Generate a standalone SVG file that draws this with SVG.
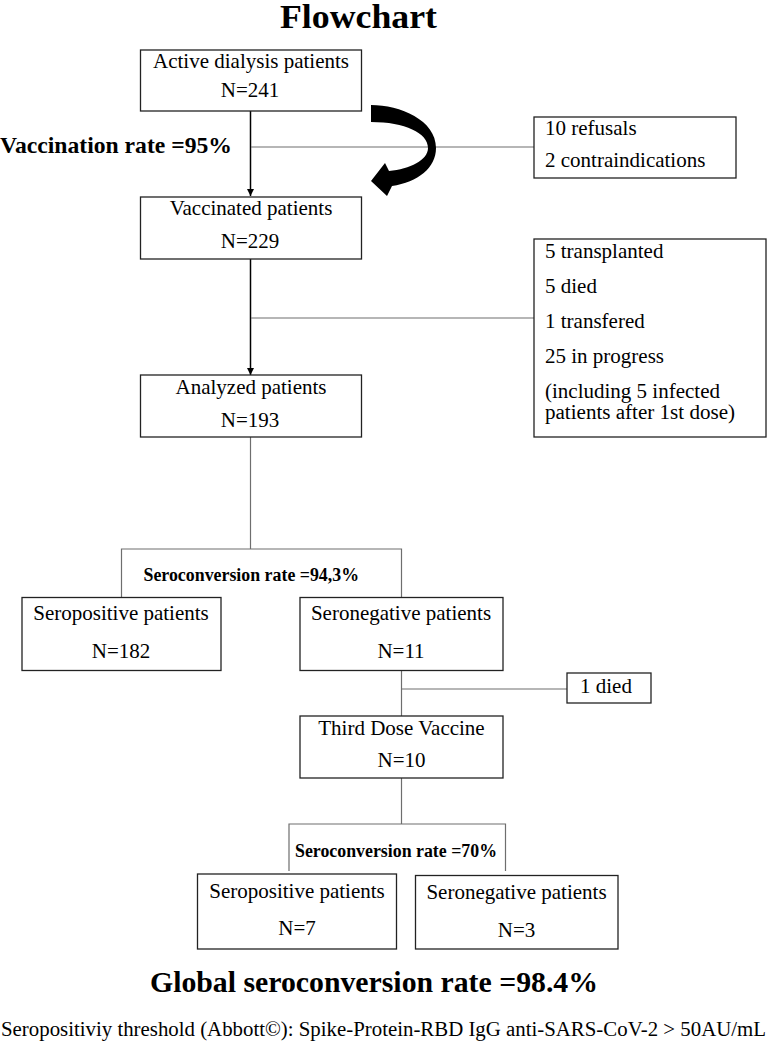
<svg xmlns="http://www.w3.org/2000/svg" width="768" height="1044" viewBox="0 0 768 1044">
<style>
text{font-family:"Liberation Serif","Times New Roman",serif;fill:#000}
.t{font-size:21px;text-anchor:middle}
.l{font-size:21px}
.b{font-weight:bold}
.box{fill:#fff;stroke:#222;stroke-width:1.3}
.arr{stroke:#000;stroke-width:1.5;fill:none}
.thin{stroke:#6e6e6e;stroke-width:1.2;fill:none}
</style>
<defs>
<marker id="ah" viewBox="0 0 10 10" refX="10" refY="5" markerWidth="5" markerHeight="5" orient="auto" markerUnits="strokeWidth">
<path d="M0,0 L10,5 L0,10 Z" fill="#000"/>
</marker>
</defs>
<rect width="768" height="1044" fill="#fff"/>
<text x="358.5" y="28" class="b" font-size="34" text-anchor="middle" textLength="157" lengthAdjust="spacingAndGlyphs">Flowchart</text>

<g id="connectors">
<line class="arr" x1="250.5" y1="111" x2="250.5" y2="196" marker-end="url(#ah)"/>
<line class="thin" x1="251" y1="147" x2="534" y2="147"/>
<line class="arr" x1="250.5" y1="259" x2="250.5" y2="375" marker-end="url(#ah)"/>
<line class="thin" x1="251" y1="318" x2="534" y2="318"/>
<line class="thin" x1="250.5" y1="437" x2="250.5" y2="549"/>
<polyline class="thin" points="121.5,597 121.5,549 401.5,549 401.5,597"/>
<line class="thin" x1="401.5" y1="671" x2="401.5" y2="716"/>
<line class="thin" x1="401.5" y1="689" x2="567" y2="689"/>
<line class="thin" x1="401.5" y1="778" x2="401.5" y2="824"/>
<polyline class="thin" points="289,871 289,824 505.5,824 505.5,871"/>
<path id="curved-arrow" d="M371,105 C400,105 436,120 436,148 C436,168 418,182 392,186 L387,196 L371,181 L385,163 L389,171 C410,169 428,160 428,148 C428,133 405,122 371,122 Z" fill="#000"/>
</g>

<text x="0" y="153" class="b" font-size="23" textLength="232" lengthAdjust="spacingAndGlyphs">Vaccination rate =95%</text>

<g id="n-active">
<rect class="box" x="140.5" y="50" width="221" height="61"/>
<text class="t" x="251" y="68">Active dialysis patients</text>
<text class="t" x="250" y="97">N=241</text>
</g>

<g id="n-excluded1">
<rect class="box" x="534" y="117" width="202" height="61"/>
<text class="l" x="545" y="135">10 refusals</text>
<text class="l" x="545" y="167">2 contraindications</text>
</g>

<g id="n-vaccinated">
<rect class="box" x="140.5" y="197" width="221" height="62"/>
<text class="t" x="251" y="215">Vaccinated patients</text>
<text class="t" x="250" y="248">N=229</text>
</g>

<g id="n-excluded2">
<rect class="box" x="534" y="239" width="232" height="198"/>
<text class="l" x="545" y="258">5 transplanted</text>
<text class="l" x="545" y="293">5 died</text>
<text class="l" x="545" y="328">1 transfered</text>
<text class="l" x="545" y="363">25 in progress</text>
<text x="545" y="398" font-size="20" textLength="175" lengthAdjust="spacingAndGlyphs">(including 5 infected</text>
<text x="545" y="419" font-size="20" textLength="190" lengthAdjust="spacingAndGlyphs">patients after 1st dose)</text>
</g>

<g id="n-analyzed">
<rect class="box" x="140.5" y="375" width="221" height="62"/>
<text class="t" x="251" y="394">Analyzed patients</text>
<text class="t" x="250" y="427">N=193</text>
</g>

<text x="143.5" y="581" class="b" font-size="18" textLength="215.5" lengthAdjust="spacingAndGlyphs">Seroconversion rate =94,3%</text>

<g id="n-seropos1">
<rect class="box" x="22" y="597.5" width="199" height="73"/>
<text class="t" x="121" y="620">Seropositive patients</text>
<text class="t" x="121" y="658">N=182</text>
</g>

<g id="n-seroneg1">
<rect class="box" x="300" y="597.5" width="203" height="73"/>
<text class="t" x="401" y="620">Seronegative patients</text>
<text class="t" x="401" y="658">N=11</text>
</g>

<g id="n-died">
<rect class="box" x="567" y="673" width="84" height="30"/>
<text class="l" x="580" y="693">1 died</text>
</g>

<g id="n-third">
<rect class="box" x="300" y="716" width="203" height="62"/>
<text class="t" x="401.5" y="735">Third Dose Vaccine</text>
<text class="t" x="401.5" y="767">N=10</text>
</g>

<text x="295" y="857" class="b" font-size="18" textLength="202" lengthAdjust="spacingAndGlyphs">Seroconversion rate =70%</text>

<g id="n-seropos2">
<rect class="box" x="197.5" y="874" width="199" height="75"/>
<text class="t" x="297" y="898">Seropositive patients</text>
<text class="t" x="297" y="935">N=7</text>
</g>

<g id="n-seroneg2">
<rect class="box" x="415.5" y="875.5" width="202.5" height="73.5"/>
<text class="t" x="516.5" y="899">Seronegative patients</text>
<text class="t" x="516.5" y="937">N=3</text>
</g>

<text x="374" y="992" class="b" font-size="30" text-anchor="middle" textLength="448" lengthAdjust="spacingAndGlyphs">Global seroconversion rate =98.4%</text>
<text x="1" y="1036" font-size="20" textLength="765" lengthAdjust="spacingAndGlyphs">Seropositiviy threshold (Abbott©): Spike-Protein-RBD IgG anti-SARS-CoV-2 &gt; 50AU/mL</text>
</svg>
